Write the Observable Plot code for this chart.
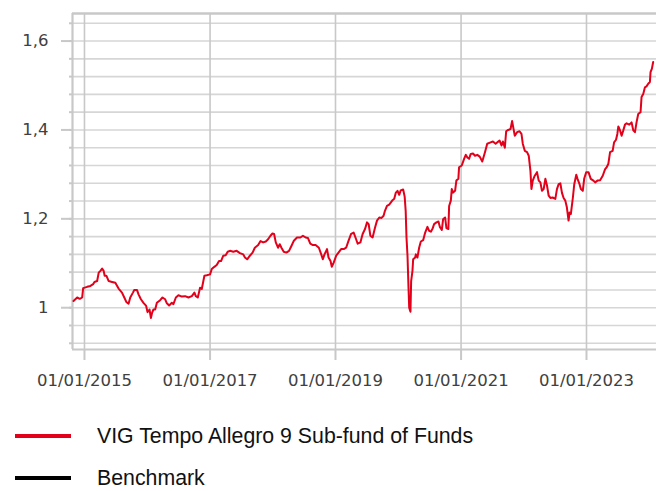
<!DOCTYPE html>
<html>
<head>
<meta charset="utf-8">
<script src="https://cdn.jsdelivr.net/npm/d3@7"></script>
<script src="https://cdn.jsdelivr.net/npm/@observablehq/plot@0.6"></script>
<style>
  html, body { margin: 0; padding: 0; background: #fff; }
  #wrap { width: 656px; height: 491px; overflow: hidden; position: relative; }
</style>
</head>
<body>
<div id="wrap"></div>
<script>
// Decimal years (time) of the fund series
const years = [
2014.825,2014.884,2014.925,2014.963,2014.979,2015.043,2015.095,2015.138,2015.159,2015.202,
2015.227,2015.254,2015.281,2015.306,2015.322,2015.349,2015.386,2015.440,2015.492,2015.544,
2015.598,2015.635,2015.667,2015.703,2015.730,2015.773,2015.794,2015.837,2015.862,2015.900,
2015.941,2015.984,2016.005,2016.037,2016.059,2016.079,2016.100,2016.127,2016.154,2016.206,
2016.243,2016.286,2016.313,2016.349,2016.392,2016.417,2016.456,2016.497,2016.551,2016.603,
2016.656,2016.710,2016.751,2016.773,2016.805,2016.841,2016.868,2016.910,2016.948,2017.000,
2017.027,2017.068,2017.106,2017.143,2017.175,2017.211,2017.249,2017.281,2017.317,2017.370,
2017.424,2017.476,2017.529,2017.556,2017.592,2017.635,2017.678,2017.714,2017.767,2017.805,
2017.846,2017.889,2017.925,2017.963,2017.995,2018.021,2018.048,2018.084,2018.111,2018.138,
2018.175,2018.217,2018.259,2018.297,2018.333,2018.386,2018.440,2018.481,2018.524,2018.560,
2018.598,2018.640,2018.683,2018.735,2018.773,2018.798,2018.825,2018.865,2018.889,2018.921,
2018.941,2018.973,2019.011,2019.048,2019.090,2019.132,2019.170,2019.206,2019.249,2019.290,
2019.329,2019.354,2019.397,2019.433,2019.471,2019.503,2019.529,2019.556,2019.592,2019.630,
2019.662,2019.698,2019.735,2019.767,2019.789,2019.821,2019.857,2019.884,2019.910,2019.937,
2019.963,2019.989,2020.016,2020.040,2020.079,2020.103,2020.119,2020.132,2020.148,2020.164,
2020.175,2020.195,2020.206,2020.227,2020.238,2020.270,2020.281,2020.306,2020.333,2020.360,
2020.397,2020.429,2020.465,2020.492,2020.519,2020.544,2020.571,2020.608,2020.640,2020.662,
2020.694,2020.714,2020.746,2020.767,2020.798,2020.810,2020.837,2020.852,2020.873,2020.905,
2020.925,2020.957,2020.968,2021.011,2021.048,2021.075,2021.100,2021.127,2021.154,2021.190,
2021.222,2021.259,2021.297,2021.338,2021.381,2021.417,2021.471,2021.508,2021.551,2021.576,
2021.614,2021.646,2021.667,2021.698,2021.719,2021.751,2021.789,2021.814,2021.837,2021.857,
2021.894,2021.932,2021.963,2021.984,2022.016,2022.052,2022.079,2022.106,2022.122,2022.143,
2022.175,2022.211,2022.238,2022.265,2022.290,2022.317,2022.344,2022.370,2022.397,2022.424,
2022.460,2022.503,2022.529,2022.556,2022.583,2022.608,2022.635,2022.662,2022.687,2022.714,
2022.730,2022.751,2022.783,2022.805,2022.837,2022.857,2022.889,2022.910,2022.941,2022.963,
2022.995,2023.032,2023.068,2023.111,2023.138,2023.175,2023.217,2023.259,2023.297,2023.322,
2023.349,2023.376,2023.417,2023.440,2023.471,2023.492,2023.508,2023.535,2023.560,2023.587,
2023.614,2023.640,2023.683,2023.719,2023.746,2023.773,2023.798,2023.825,2023.862,2023.878,
2023.905,2023.932,2023.957,2023.984,2024.011,2024.021,2024.043,2024.063
];
// Fund values (indexed)
const fund = [
1.015,1.023,1.020,1.023,1.044,1.047,1.049,1.053,1.058,1.060,
1.079,1.083,1.088,1.083,1.072,1.072,1.060,1.058,1.056,1.043,
1.034,1.023,1.013,1.009,1.023,1.034,1.040,1.040,1.030,1.019,
1.011,1.004,0.990,0.996,0.977,0.989,0.996,0.996,1.011,1.017,
1.023,1.019,1.010,1.005,1.011,1.008,1.023,1.028,1.025,1.026,
1.023,1.026,1.034,1.026,1.023,1.045,1.042,1.072,1.073,1.075,
1.087,1.092,1.096,1.105,1.105,1.117,1.118,1.126,1.128,1.126,
1.128,1.123,1.120,1.113,1.109,1.117,1.124,1.135,1.141,1.150,
1.147,1.149,1.154,1.162,1.167,1.166,1.147,1.135,1.143,1.135,
1.126,1.124,1.128,1.139,1.150,1.158,1.158,1.162,1.158,1.157,
1.144,1.141,1.141,1.135,1.120,1.109,1.120,1.132,1.113,1.105,
1.092,1.102,1.117,1.124,1.132,1.132,1.135,1.150,1.166,1.169,
1.154,1.144,1.147,1.166,1.177,1.192,1.188,1.162,1.158,1.180,
1.196,1.203,1.202,1.207,1.218,1.229,1.232,1.237,1.242,1.245,
1.259,1.263,1.254,1.264,1.266,1.250,1.218,1.158,1.117,1.045,
1.000,0.991,1.060,1.083,1.109,1.113,1.120,1.113,1.135,1.149,
1.152,1.169,1.182,1.173,1.171,1.177,1.188,1.192,1.194,1.182,
1.175,1.199,1.203,1.179,1.177,1.229,1.241,1.267,1.259,1.263,
1.286,1.290,1.316,1.320,1.335,1.344,1.338,1.335,1.346,1.347,
1.342,1.344,1.340,1.329,1.350,1.369,1.372,1.374,1.369,1.372,
1.376,1.365,1.374,1.360,1.397,1.400,1.402,1.420,1.402,1.387,
1.395,1.397,1.391,1.369,1.353,1.350,1.342,1.308,1.267,1.286,
1.297,1.305,1.286,1.282,1.263,1.267,1.290,1.275,1.252,1.247,
1.248,1.245,1.267,1.278,1.280,1.259,1.247,1.241,1.226,1.196,
1.214,1.211,1.248,1.278,1.299,1.290,1.278,1.267,1.263,1.290,
1.305,1.305,1.290,1.286,1.282,1.286,1.287,1.297,1.312,1.316,
1.324,1.350,1.353,1.372,1.378,1.391,1.408,1.399,1.387,1.399,
1.412,1.415,1.412,1.417,1.399,1.395,1.417,1.436,1.440,1.474,
1.481,1.496,1.498,1.504,1.508,1.530,1.538,1.553
];
const yMajorTicks = [1, 1.2, 1.4, 1.6];
const yGridTicks = [0.92,0.96,1.00,1.04,1.08,1.12,1.16,1.20,1.24,1.28,1.32,1.36,1.40,1.44,1.48,1.52,1.56,1.60,1.64];
const xTickYears = [2015, 2017, 2019, 2021, 2023];
const xDomainYears = [2014.809, 2024.116];
const yDomain = [0.906, 1.662];
const seriesNames = ["VIG Tempo Allegro 9 Sub-fund of Funds", "Benchmark"];
const seriesColors = ["#e2001a", "#000000"];

function toDate(dy) {
  const y = Math.floor(dy);
  const a = Date.UTC(y, 0, 1), b = Date.UTC(y + 1, 0, 1);
  return new Date(a + (dy - y) * (b - a));
}
const data = years.map((t, i) => ({date: toDate(t), value: fund[i]}));
const xTicks = xTickYears.map(y => new Date(Date.UTC(y, 0, 1)));
const xDomain = xDomainYears.map(toDate);
const fmtX = d3.utcFormat("%d/%m/%Y");
const fmtY = d => String(d).replace(".", ",");
const axisGray = "#c8c8c8";
const gridGray = "#d6d6d6";

const chart = Plot.plot({
  width: 656,
  height: 395,
  marginLeft: 72,
  marginRight: 0,
  marginTop: 13,
  marginBottom: 46,
  style: {fontFamily: "'DejaVu Sans', Verdana, sans-serif", fontSize: "16.5px", color: "#404040", background: "#fff", overflow: "visible"},
  x: {type: "utc", domain: xDomain, label: null},
  y: {domain: yDomain, label: null},
  marks: [
    Plot.gridY(yGridTicks, {stroke: gridGray, strokeOpacity: 1, strokeWidth: 1.6}),
    Plot.gridX(xTicks, {stroke: axisGray, strokeOpacity: 1, strokeWidth: 1.6}),
    Plot.axisY(yGridTicks, {tickSize: 3, tickFormat: () => "", stroke: axisGray, strokeWidth: 2, label: null}),
    Plot.axisY(yMajorTicks, {tickSize: 11, tickPadding: 13, tickFormat: fmtY, stroke: axisGray, strokeWidth: 2, label: null}),
    Plot.axisX(xTicks, {tickSize: 11, tickPadding: 14, tickFormat: fmtX, stroke: axisGray, strokeWidth: 2, label: null}),
    Plot.ruleX([xDomain[0]], {stroke: axisGray, strokeWidth: 2.2}),
    Plot.ruleY([yDomain[0]], {stroke: axisGray, strokeWidth: 2.2}),
    Plot.ruleY([yDomain[1]], {stroke: axisGray, strokeWidth: 2.6}),
    Plot.line(data, {x: "date", y: "value", stroke: seriesColors[0], strokeWidth: 2})
  ]
});
const wrap = document.getElementById("wrap");
wrap.appendChild(chart);

// Legend below the chart
const leg = d3.select(wrap).append("svg")
  .attr("width", 656).attr("height", 96)
  .style("display", "block");
const rows = seriesNames.map((n, i) => ({name: n, color: seriesColors[i], y: 41 + i * 42}));
const g = leg.selectAll("g").data(rows).join("g");
g.append("line")
  .attr("x1", 15).attr("x2", 71)
  .attr("y1", d => d.y).attr("y2", d => d.y)
  .attr("stroke", d => d.color).attr("stroke-width", 4);
g.append("text")
  .attr("x", 97).attr("y", d => d.y + 7)
  .attr("font-family", "'Liberation Sans', Arial, sans-serif")
  .attr("font-size", 21.3)
  .attr("fill", "#111")
  .text(d => d.name);
</script>
</body>
</html>
